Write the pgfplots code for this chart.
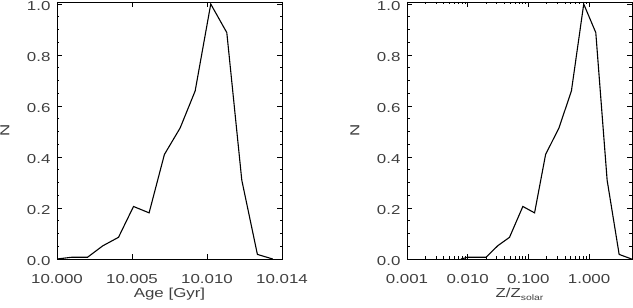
\documentclass[border=0pt]{standalone}
\usepackage{fontspec}
\setmainfont{Liberation Sans}[FakeStretch=1.3]
\usepackage{pgfplots}
\pgfplotsset{compat=1.18}
\newcommand{\lblfont}{\fontsize{13bp}{15bp}\selectfont}
\pgfplotsset{
  idl/.style={
    scale only axis, width=225bp, height=257bp,
    anchor=south west,
    axis line style={black, line width=0.8bp},
    tick align=inside, tick pos=both,
    major tick length=5bp, minor tick length=2.5bp,
    every tick/.style={black, line width=0.6bp},
    tick label style={font=\lblfont, text=black!75},
    ymin=0, ymax=1.008,
    ytick={0,0.2,0.4,0.6,0.8,1.0},
    yticklabels={0.0,0.2,0.4,0.6,0.8,1.0},
    minor y tick num=3,
    yticklabel style={anchor=east, xshift=-3bp, yshift=-2bp},
    xticklabel style={anchor=base, yshift=-24.5bp},
    every axis x label/.style={at={(axis description cs:0.5,-0.15)}, anchor=base, font=\lblfont, text=black!75},
    every axis y label/.style={at={(axis description cs:-0.232,0.5)}, rotate=90, anchor=center, font=\lblfont, text=black!75},
    ylabel={N},
  }
}
\begin{document}
\begin{tikzpicture}
\useasboundingbox (0,0) rectangle (633bp,308bp);
\begin{axis}[idl, at={(57bp,49bp)},
  xmin=10.000, xmax=10.015,
  xtick={10.000,10.005,10.010,10.015},
  xticklabels={10.000,10.005,10.010,10.014},
  minor x tick num=0,
  scaled x ticks=false,
  xlabel={Age [Gyr]}]
\addplot[black, line width=1.1bp, mark=none] coordinates {
(10.00000,0.000) (10.00100,0.007) (10.00204,0.007) (10.00306,0.052)
(10.00410,0.085) (10.00510,0.206) (10.00614,0.181) (10.00716,0.410)
(10.00821,0.514) (10.00921,0.659) (10.01025,1.000) (10.01132,0.888)
(10.01232,0.309) (10.01336,0.018) (10.01438,0.000)
};
\end{axis}
\begin{axis}[idl, at={(407bp,49bp)},
  xmode=log, xmin=0.001, xmax=5.1,
  xtick={0.001,0.01,0.1,1},
  xticklabels={0.001,0.010,0.100,1.000},
  xlabel={Z/Z\raisebox{-0.45ex}{\fontsize{8bp}{9bp}\selectfont solar}}]
\addplot[black, line width=1.1bp, mark=none] coordinates {
(0.00778,0.000) (0.0100,0.007) (0.0201,0.007) (0.0313,0.052)
(0.0489,0.085) (0.0811,0.206) (0.1265,0.181) (0.1923,0.410)
(0.319,0.514) (0.512,0.659) (0.817,1.000) (1.291,0.888)
(1.986,0.309) (3.133,0.018) (5.02,0.000)
};
\end{axis}
\end{tikzpicture}
\end{document}
